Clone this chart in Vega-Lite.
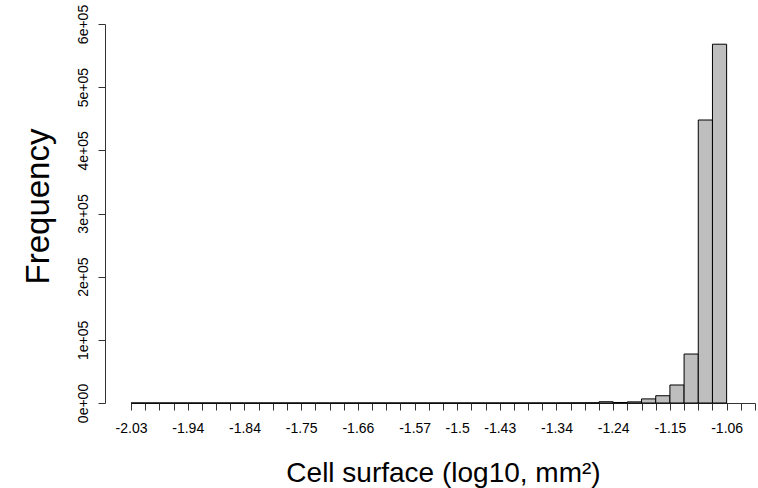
{
  "$schema": "https://vega.github.io/schema/vega-lite/v6.json",
  "autosize": "none",
  "padding": {"left": 131, "top": 24, "right": 3, "bottom": 85},
  "width": 624,
  "height": 379,
  "background": "white",
  "config": {"view": {"stroke": null}, "font": "Liberation Sans"},
  "data": {
    "values": [
      {"bin_start": -2.0298, "bin_end": -2.00665, "count": 0},
      {"bin_start": -2.00665, "bin_end": -1.9835, "count": 0},
      {"bin_start": -1.9835, "bin_end": -1.96035, "count": 0},
      {"bin_start": -1.96035, "bin_end": -1.9372, "count": 0},
      {"bin_start": -1.9372, "bin_end": -1.91405, "count": 0},
      {"bin_start": -1.91405, "bin_end": -1.8909, "count": 0},
      {"bin_start": -1.8909, "bin_end": -1.86775, "count": 0},
      {"bin_start": -1.86775, "bin_end": -1.8446, "count": 0},
      {"bin_start": -1.8446, "bin_end": -1.82145, "count": 0},
      {"bin_start": -1.82145, "bin_end": -1.7983, "count": 0},
      {"bin_start": -1.7983, "bin_end": -1.77515, "count": 0},
      {"bin_start": -1.77515, "bin_end": -1.752, "count": 0},
      {"bin_start": -1.752, "bin_end": -1.72885, "count": 0},
      {"bin_start": -1.72885, "bin_end": -1.7057, "count": 0},
      {"bin_start": -1.7057, "bin_end": -1.68255, "count": 0},
      {"bin_start": -1.68255, "bin_end": -1.6594, "count": 0},
      {"bin_start": -1.6594, "bin_end": -1.63625, "count": 0},
      {"bin_start": -1.63625, "bin_end": -1.6131, "count": 0},
      {"bin_start": -1.6131, "bin_end": -1.58995, "count": 0},
      {"bin_start": -1.58995, "bin_end": -1.5668, "count": 0},
      {"bin_start": -1.5668, "bin_end": -1.54365, "count": 0},
      {"bin_start": -1.54365, "bin_end": -1.5205, "count": 0},
      {"bin_start": -1.5205, "bin_end": -1.49735, "count": 0},
      {"bin_start": -1.49735, "bin_end": -1.4742, "count": 0},
      {"bin_start": -1.4742, "bin_end": -1.45105, "count": 0},
      {"bin_start": -1.45105, "bin_end": -1.4279, "count": 0},
      {"bin_start": -1.4279, "bin_end": -1.40475, "count": 0},
      {"bin_start": -1.40475, "bin_end": -1.3816, "count": 0},
      {"bin_start": -1.3816, "bin_end": -1.35845, "count": 0},
      {"bin_start": -1.35845, "bin_end": -1.3353, "count": 0},
      {"bin_start": -1.3353, "bin_end": -1.31215, "count": 100},
      {"bin_start": -1.31215, "bin_end": -1.289, "count": 200},
      {"bin_start": -1.289, "bin_end": -1.26585, "count": 300},
      {"bin_start": -1.26585, "bin_end": -1.2427, "count": 2000},
      {"bin_start": -1.2427, "bin_end": -1.21955, "count": 800},
      {"bin_start": -1.21955, "bin_end": -1.1964, "count": 1800},
      {"bin_start": -1.1964, "bin_end": -1.17325, "count": 6500},
      {"bin_start": -1.17325, "bin_end": -1.1501, "count": 11500},
      {"bin_start": -1.1501, "bin_end": -1.12695, "count": 28500},
      {"bin_start": -1.12695, "bin_end": -1.1038, "count": 77500},
      {"bin_start": -1.1038, "bin_end": -1.08065, "count": 448000},
      {"bin_start": -1.08065, "bin_end": -1.0575, "count": 568000}
    ]
  },
  "mark": {"type": "rect", "fill": "#bebebe", "stroke": "#000000", "strokeWidth": 1},
  "encoding": {
    "x": {
      "field": "bin_start",
      "type": "quantitative",
      "scale": {"domain": [-2.0298, -1.0112], "nice": false, "zero": false},
      "axis": {
        "title": "Cell surface (log10, mm²)",
        "titleFontSize": 28,
        "titleFontWeight": "normal",
        "titleColor": "#000000",
        "titleFont": "Liberation Sans",
        "titleBaseline": "alphabetic",
        "titleY": 78,
        "grid": false,
        "values": [-2.0298, -2.00665, -1.9835, -1.96035, -1.9372, -1.91405, -1.8909, -1.86775, -1.8446, -1.82145, -1.7983, -1.77515, -1.752, -1.72885, -1.7057, -1.68255, -1.6594, -1.63625, -1.6131, -1.58995, -1.5668, -1.54365, -1.5205, -1.49735, -1.4742, -1.45105, -1.4279, -1.40475, -1.3816, -1.35845, -1.3353, -1.31215, -1.289, -1.26585, -1.2427, -1.21955, -1.1964, -1.17325, -1.1501, -1.12695, -1.1038, -1.08065, -1.0575, -1.03435, -1.0112],
        "labelExpr": "indexof([-203,-194,-184,-175,-166,-157,-150,-143,-134,-124,-115,-106], round(datum.value*100)) >= 0 ? '-' + format(-datum.value, '.2~f') : ''",
        "labelFontSize": 14,
        "labelColor": "#000000",
        "labelPadding": 11,
        "labelOverlap": false,
        "labelFlush": false,
        "tickSize": 7,
        "tickColor": "#333333",
        "domainColor": "#333333",
        "offset": 0
      }
    },
    "x2": {"field": "bin_end"},
    "y": {
      "field": "count",
      "type": "quantitative",
      "scale": {"domain": [0, 600000], "nice": false},
      "axis": {
        "title": "Frequency",
        "titleFontSize": 33,
        "titleFontWeight": "normal",
        "titleColor": "#000000",
        "titleAngle": -90,
        "titleAlign": "center",
        "titleBaseline": "middle",
        "titleX": -67,
        "titleY": 182,
        "grid": false,
        "values": [0, 100000, 200000, 300000, 400000, 500000, 600000],
        "labelExpr": "datum.value == 0 ? '0e+00' : (datum.value/100000) + 'e+05'",
        "labelAngle": -90,
        "labelAlign": "center",
        "labelBaseline": "alphabetic",
        "labelFontSize": 14,
        "labelColor": "#000000",
        "labelPadding": 11,
        "labelOverlap": false,
        "labelFlush": false,
        "tickSize": 7,
        "tickColor": "#333333",
        "domainColor": "#333333",
        "offset": 26
      }
    },
    "y2": {"datum": 0}
  }
}
